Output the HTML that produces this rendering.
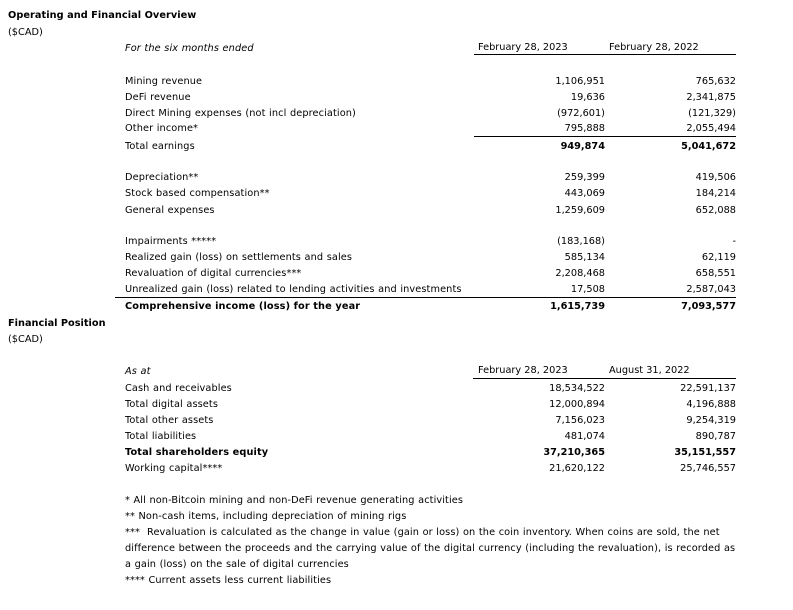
<!DOCTYPE html>
<html><head><meta charset="utf-8"><style>
html,body{margin:0;padding:0;background:#fff;}
body{width:793px;height:610px;position:relative;overflow:hidden;font-family:"DejaVu Sans","Liberation Sans",sans-serif;font-size:9.75px;color:#000;}
.t{position:absolute;line-height:16px;white-space:nowrap;}
.b{font-weight:bold;}
.i{font-style:italic;}
.r1{right:188px;text-align:right;}
.r2{right:57px;text-align:right;}
.l{left:125px;}
.l:not(.b){letter-spacing:0.1px;word-spacing:0.35px;}
.l.b{letter-spacing:0.12px;}
.ln{position:absolute;height:1px;background:#000;}
</style></head><body>
<div class="t b" style="left:8px;top:8px;letter-spacing:0.05px">Operating and Financial Overview</div>
<div class="t" style="left:8px;top:25px">($CAD)</div>
<div class="t i l" style="top:41px">For the six months ended</div>
<div class="t" style="left:478px;top:40px">February 28, 2023</div>
<div class="t" style="left:609px;top:40px">February 28, 2022</div>
<div class="ln" style="left:474px;width:262px;top:54px"></div>

<div class="t l" style="top:74px">Mining revenue</div>
<div class="t r1" style="top:74px">1,106,951</div>
<div class="t r2" style="top:74px">765,632</div>
<div class="t l" style="top:90px">DeFi revenue</div>
<div class="t r1" style="top:90px">19,636</div>
<div class="t r2" style="top:90px">2,341,875</div>
<div class="t l" style="top:106px">Direct Mining expenses (not incl depreciation)</div>
<div class="t r1" style="top:106px">(972,601)</div>
<div class="t r2" style="top:106px">(121,329)</div>
<div class="t l" style="top:121px">Other income*</div>
<div class="t r1" style="top:121px">795,888</div>
<div class="t r2" style="top:121px">2,055,494</div>
<div class="ln" style="left:474px;width:262px;top:136px"></div>
<div class="t l" style="top:139px">Total earnings</div>
<div class="t r1 b" style="top:139px">949,874</div>
<div class="t r2 b" style="top:139px">5,041,672</div>

<div class="t l" style="top:170px">Depreciation**</div>
<div class="t r1" style="top:170px">259,399</div>
<div class="t r2" style="top:170px">419,506</div>
<div class="t l" style="top:186px">Stock based compensation**</div>
<div class="t r1" style="top:186px">443,069</div>
<div class="t r2" style="top:186px">184,214</div>
<div class="t l" style="top:203px">General expenses</div>
<div class="t r1" style="top:203px">1,259,609</div>
<div class="t r2" style="top:203px">652,088</div>

<div class="t l" style="top:234px">Impairments *****</div>
<div class="t r1" style="top:234px">(183,168)</div>
<div class="t r2" style="top:234px">-</div>
<div class="t l" style="top:250px">Realized gain (loss) on settlements and sales</div>
<div class="t r1" style="top:250px">585,134</div>
<div class="t r2" style="top:250px">62,119</div>
<div class="t l" style="top:266px">Revaluation of digital currencies***</div>
<div class="t r1" style="top:266px">2,208,468</div>
<div class="t r2" style="top:266px">658,551</div>
<div class="t l" style="top:282px">Unrealized gain (loss) related to lending activities and investments</div>
<div class="t r1" style="top:282px">17,508</div>
<div class="t r2" style="top:282px">2,587,043</div>
<div class="ln" style="left:115px;width:621px;top:297px"></div>
<div class="t l b" style="top:299px">Comprehensive income (loss) for the year</div>
<div class="t r1 b" style="top:299px">1,615,739</div>
<div class="t r2 b" style="top:299px">7,093,577</div>

<div class="t b" style="left:8px;top:316px">Financial Position</div>
<div class="t" style="left:8px;top:332px">($CAD)</div>
<div class="t i l" style="top:364px">As at</div>
<div class="t" style="left:478px;top:363px">February 28, 2023</div>
<div class="t" style="left:609px;top:363px">August 31, 2022</div>
<div class="ln" style="left:473px;width:263px;top:378px"></div>
<div class="t l" style="top:381px">Cash and receivables</div>
<div class="t r1" style="top:381px">18,534,522</div>
<div class="t r2" style="top:381px">22,591,137</div>
<div class="t l" style="top:397px">Total digital assets</div>
<div class="t r1" style="top:397px">12,000,894</div>
<div class="t r2" style="top:397px">4,196,888</div>
<div class="t l" style="top:413px">Total other assets</div>
<div class="t r1" style="top:413px">7,156,023</div>
<div class="t r2" style="top:413px">9,254,319</div>
<div class="t l" style="top:429px">Total liabilities</div>
<div class="t r1" style="top:429px">481,074</div>
<div class="t r2" style="top:429px">890,787</div>
<div class="t l b" style="top:445px">Total shareholders equity</div>
<div class="t r1 b" style="top:445px">37,210,365</div>
<div class="t r2 b" style="top:445px">35,151,557</div>
<div class="t l" style="top:461px">Working capital****</div>
<div class="t r1" style="top:461px">21,620,122</div>
<div class="t r2" style="top:461px">25,746,557</div>

<div class="t l" style="top:493px">* All non-Bitcoin mining and non-DeFi revenue generating activities</div>
<div class="t l" style="top:509px">** Non-cash items, including depreciation of mining rigs</div>
<div class="t l" style="top:525px">***&nbsp; Revaluation is calculated as the change in value (gain or loss) on the coin inventory. When coins are sold, the net</div>
<div class="t l" style="top:541px">difference between the proceeds and the carrying value of the digital currency (including the revaluation), is recorded as</div>
<div class="t l" style="top:557px">a gain (loss) on the sale of digital currencies</div>
<div class="t l" style="top:573px">**** Current assets less current liabilities</div>
</body></html>
